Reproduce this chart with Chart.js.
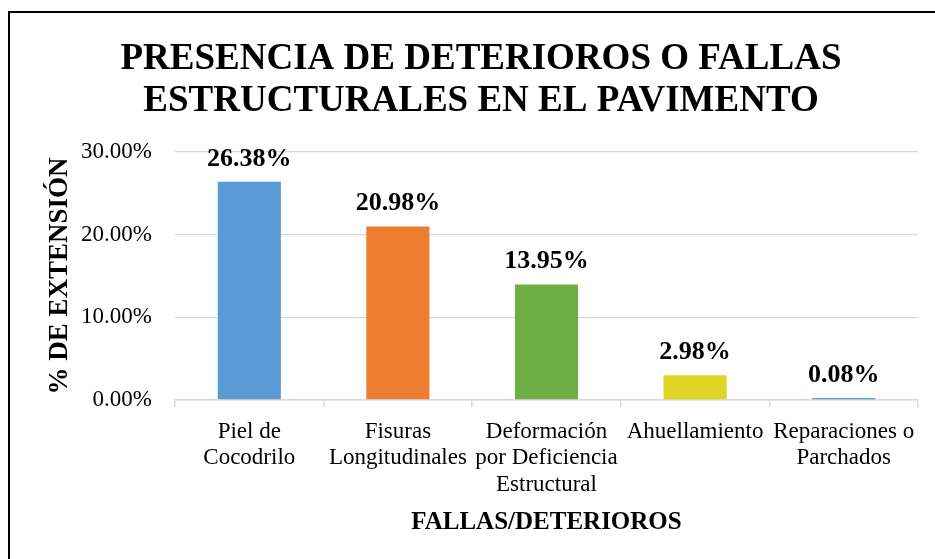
<!DOCTYPE html>
<html>
<head>
<meta charset="utf-8">
<script src="https://cdn.jsdelivr.net/npm/chart.js@4.4.1/dist/chart.umd.min.js"></script>
<style>
  html, body { margin: 0; padding: 0; background: #fff; overflow: hidden; }
  #frame {
    position: absolute; left: 8px; top: 11px;
    width: 960px; height: 600px;
    border-left: 2px solid #000; border-top: 2px solid #000;
  }
  #chart { position: absolute; left: 0; top: 0; }
</style>
</head>
<body>
<div id="frame">
  <canvas id="chart" width="935" height="546"></canvas>
</div>
<script>
// values
const categories = [
  ['Piel de', 'Cocodrilo'],
  ['Fisuras', 'Longitudinales'],
  ['Deformación', 'por Deficiencia', 'Estructural'],
  ['Ahuellamiento'],
  ['Reparaciones o', 'Parchados']
];
const extension = [26.38, 20.98, 13.95, 2.98, 0.08];
const barColors = ['#5B9BD5', '#ED7D31', '#70AD47', '#DFD523', '#5B9BD5'];
const yTicks = [0, 10, 20, 30];

const serif = '"Liberation Serif", "Times New Roman", serif';

// draw the value above each bar
const valueLabels = {
  id: 'valueLabels',
  afterDatasetsDraw(chart) {
    const ctx = chart.ctx;
    const meta = chart.getDatasetMeta(0);
    ctx.save();
    ctx.font = 'bold 26px ' + serif;
    ctx.fillStyle = '#000';
    ctx.textAlign = 'center';
    ctx.textBaseline = 'bottom';
    meta.data.forEach((bar, i) => {
      ctx.fillText(extension[i].toFixed(2) + '%', bar.x, bar.y - 10);
    });
    ctx.restore();
  }
};

new Chart(document.getElementById('chart'), {
  type: 'bar',
  data: {
    labels: categories,
    datasets: [{
      data: extension,
      backgroundColor: barColors,
      barPercentage: 0.85,
      categoryPercentage: 0.5,
      minBarLength: 2
    }]
  },
  options: {
    responsive: false,
    animation: false,
    layout: { padding: { left: 34, right: 27, top: 0, bottom: 21 } },
    plugins: {
      legend: { display: false },
      tooltip: { enabled: false },
      title: {
        display: true,
        text: ['PRESENCIA DE DETERIOROS O FALLAS', 'ESTRUCTURALES EN EL PAVIMENTO'],
        color: '#000',
        font: { family: serif, size: 37, weight: 'bold', lineHeight: 1.12 },
        padding: { top: 26, bottom: 30 }
      }
    },
    scales: {
      y: {
        min: 0,
        max: 30,
        afterBuildTicks: (axis) => { axis.ticks = yTicks.map(v => ({ value: v })); },
        afterFit: (axis) => { axis.width = 131; },
        ticks: {
          color: '#000',
          padding: 23,
          font: { family: serif, size: 23 },
          callback: (v) => v.toFixed(2) + '%'
        },
        grid: { color: '#d9d9d9', lineWidth: 1.3, drawTicks: false },
        border: { display: false },
        title: {
          display: true,
          text: '% DE EXTENSIÓN',
          color: '#000',
          font: { family: serif, size: 27, weight: 'bold' },
          padding: { top: 0, bottom: 0 }
        }
      },
      x: {
        afterFit: (axis) => { axis.height = 138; },
        ticks: {
          color: '#000',
          padding: 11,
          maxRotation: 0,
          autoSkip: false,
          font: { family: serif, size: 23, lineHeight: 1.17 }
        },
        grid: { offset: true, drawOnChartArea: false, color: '#d9d9d9', lineWidth: 1.5, tickLength: 7 },
        border: { color: '#d9d9d9', width: 1.5 },
        title: {
          display: true,
          text: 'FALLAS/DETERIOROS',
          color: '#000',
          font: { family: serif, size: 25, weight: 'bold' },
          padding: { top: 0, bottom: 0 }
        }
      }
    }
  },
  plugins: [valueLabels]
});
</script>
</body>
</html>
